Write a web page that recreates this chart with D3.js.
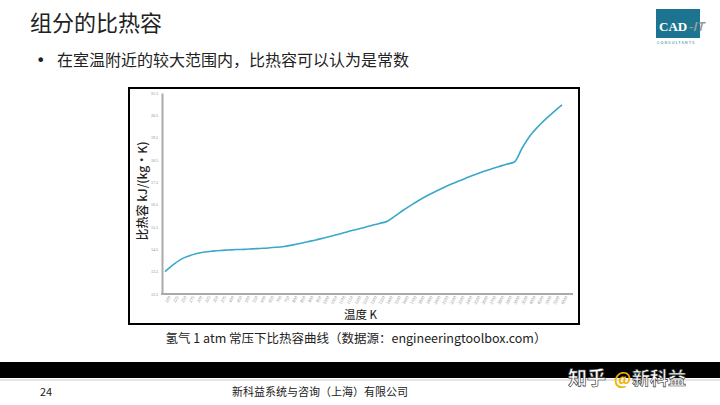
<!DOCTYPE html>
<html><head><meta charset="utf-8">
<script src="https://cdn.jsdelivr.net/npm/d3@7"></script>
<style>
html,body{margin:0;padding:0;background:#fff;}
svg{display:block;font-family:"Noto Sans CJK SC","Noto Sans",sans-serif;}
</style></head>
<body>
<svg id="c" width="720" height="405"></svg>
<script>
const temps = ["200","225","250","275","300","325","350","375","400","450","500","550","600","650","700","750","800","850","900","950","1000","1050","1100","1150","1200","1250","1300","1350","1400","1500","1600","1700","1800","1900","2000","2100","2200","2300","2400","2500","2600","2700","2800","2900","3000","3500","4000","4500","5000","5500","6000"];
const cpValues = [13.50,13.80,14.05,14.20,14.31,14.38,14.42,14.45,14.47,14.49,14.50,14.52,14.54,14.56,14.59,14.63,14.69,14.76,14.84,14.92,15.01,15.10,15.19,15.29,15.38,15.47,15.57,15.66,15.76,16.00,16.25,16.48,16.70,16.90,17.08,17.25,17.41,17.56,17.70,17.84,17.97,18.09,18.20,18.31,18.41,19.05,19.60,20.00,20.35,20.67,20.97];
const yTicks = [12.5,13.5,14.5,15.5,16.5,17.5,18.5,19.5,20.5,21.5];

const svg = d3.select("#c");

// title & bullet
svg.append("text").attr("x",30).attr("y",31).attr("font-size",22).attr("fill","#222").text("组分的比热容");
svg.append("text").attr("x",36).attr("y",66).attr("font-size",16).attr("font-family","DejaVu Sans").attr("fill","#222").text("•");
svg.append("text").attr("x",57).attr("y",66).attr("font-size",16).attr("fill","#222").text("在室温附近的较大范围内，比热容可以认为是常数");

// logo
const lg = svg.append("g");
lg.append("rect").attr("x",656).attr("y",9).attr("width",44).attr("height",29).attr("fill","#1c7490");
lg.append("text").attr("x",659).attr("y",31).attr("font-size",13).attr("font-weight","bold").attr("font-family","Liberation Serif").attr("fill","#fff").text("CAD");
lg.append("text").attr("x",688).attr("y",31).attr("font-size",12).attr("font-style","italic").attr("font-weight","bold").attr("fill","#9a9a9a").text("-IT");
lg.append("text").attr("x",657).attr("y",44).attr("font-size",4).attr("letter-spacing",1).attr("fill","#1c7490").text("CONSULTANTS");

// chart box
svg.append("rect").attr("x",129).attr("y",88).attr("width",450).attr("height",236)
  .attr("fill","#fff").attr("stroke","#000").attr("stroke-width",2);

const x = d3.scalePoint().domain(temps).range([165,562]);
const y = d3.scaleLinear().domain([12.5,21.5]).range([294,93]);

// axes
const yAxis = svg.append("g").attr("transform","translate(162,0)")
  .call(d3.axisLeft(y).tickValues(yTicks).tickSize(0).tickPadding(4).tickFormat(d3.format(".1f")));
yAxis.select(".domain").attr("stroke","#aaa").attr("stroke-width",2);
yAxis.selectAll("text").attr("font-size",4).attr("fill","#888").attr("font-family","Liberation Serif");

svg.append("line").attr("x1",161).attr("x2",573).attr("y1",294).attr("y2",294).attr("stroke","#aaa").attr("stroke-width",2);
const xAxis = svg.append("g").attr("transform","translate(0,295)")
  .call(d3.axisBottom(x).tickSize(0).tickPadding(3));
xAxis.select(".domain").remove();
xAxis.selectAll("text").attr("font-size",4.5).attr("fill","#888")
  .attr("text-anchor","end").attr("dx","0.2em").attr("dy","0.6em")
  .attr("transform","rotate(-60)").attr("font-family","Liberation Serif");

// line
svg.append("path").datum(cpValues)
  .attr("d", d3.line().x((d,i)=>x(temps[i])).y(d=>y(d)).curve(d3.curveMonotoneX))
  .attr("fill","none").attr("stroke","#3aa8c8").attr("stroke-width",1.6);

// axis titles
svg.append("text").attr("transform","translate(147,191) rotate(-90)").attr("text-anchor","middle")
  .attr("font-size",12).attr("font-weight",500).attr("fill","#222").text("比热容 kJ/(kg•K)");
svg.append("text").attr("x",344).attr("y",319).attr("font-size",11.5).attr("fill","#111").text("温度 K");

// caption
svg.append("text").attr("x",356).attr("y",343).attr("text-anchor","middle").attr("font-size",12.5).attr("fill","#222")
  .text("氢气 1 atm 常压下比热容曲线（数据源：engineeringtoolbox.com）");

// footer
svg.append("rect").attr("x",0).attr("y",362).attr("width",720).attr("height",16).attr("fill","#000");
svg.append("line").attr("x1",0).attr("x2",720).attr("y1",380).attr("y2",380).attr("stroke","#ccc").attr("stroke-width",1);
svg.append("text").attr("x",40).attr("y",396).attr("font-size",11).attr("fill","#222").text("24");
svg.append("text").attr("x",320).attr("y",396).attr("text-anchor","middle").attr("font-size",11).attr("fill","#222").text("新科益系统与咨询（上海）有限公司");
svg.append("text").attr("x",568).attr("y",385).attr("font-size",19).attr("fill","#fff").attr("stroke","#333").attr("stroke-width",0.6).attr("font-weight","bold").text("知乎");
svg.append("text").attr("x",614).attr("y",385).attr("font-size",17).attr("fill","#f0b400").attr("font-weight","bold").text("@");
svg.append("text").attr("x",632).attr("y",385).attr("font-size",18).attr("fill","#fff").attr("stroke","#333").attr("stroke-width",0.6).attr("font-weight","bold").text("新科益");
</script>
</body></html>
